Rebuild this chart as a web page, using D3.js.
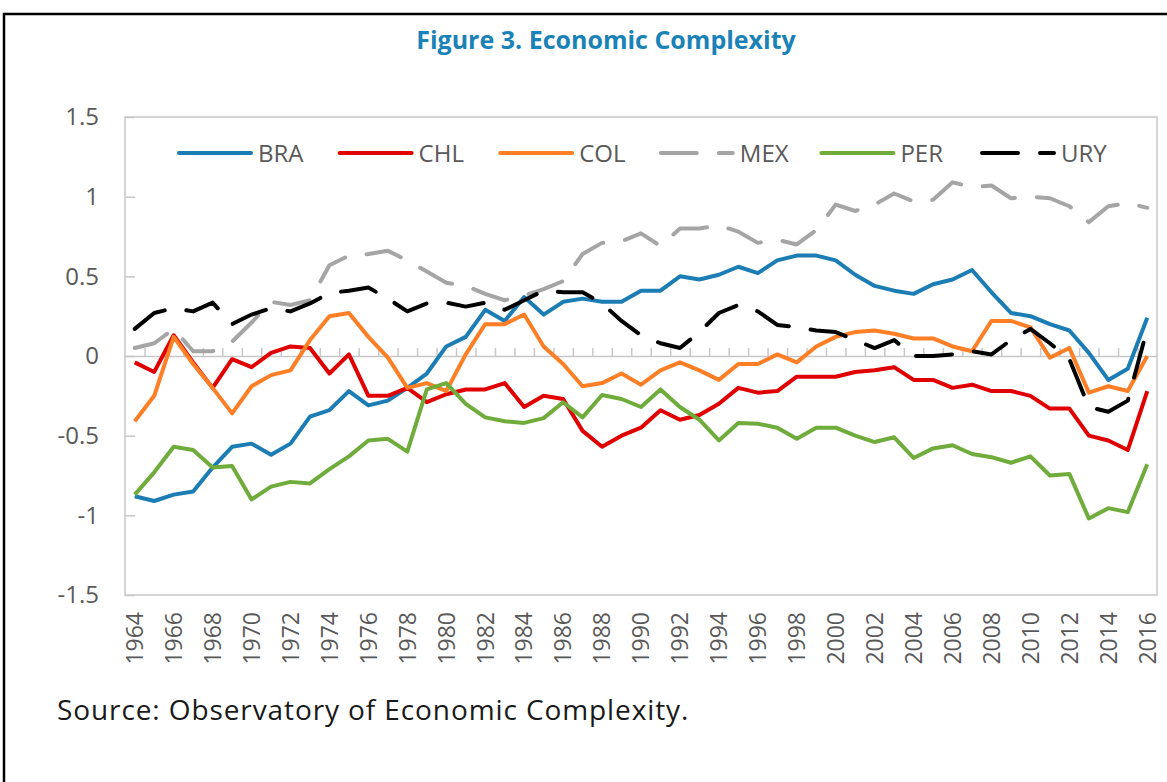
<!DOCTYPE html>
<html>
<head>
<meta charset="utf-8">
<script src="https://cdn.jsdelivr.net/npm/d3@7"></script>
<style>
  body { margin: 0; background: #fff; }
  svg { display: block; }
</style>
</head>
<body>
<script>
// categories
const years = [1964, 1965, 1966, 1967, 1968, 1969, 1970, 1971, 1972, 1973,
  1974, 1975, 1976, 1977, 1978, 1979, 1980, 1981, 1982, 1983,
  1984, 1985, 1986, 1987, 1988, 1989, 1990, 1991, 1992, 1993,
  1994, 1995, 1996, 1997, 1998, 1999, 2000, 2001, 2002, 2003,
  2004, 2005, 2006, 2007, 2008, 2009, 2010, 2011, 2012, 2013,
  2014, 2015, 2016]

// tick labels
const yearLabels = [1964, 1966, 1968, 1970, 1972, 1974, 1976, 1978, 1980, 1982,
  1984, 1986, 1988, 1990, 1992, 1994, 1996, 1998, 2000, 2002,
  2004, 2006, 2008, 2010, 2012, 2014, 2016]
const yTicks = [-1.5, -1, -0.5, 0, 0.5, 1, 1.5]

// series values
const BRA = [-0.88, -0.91, -0.87, -0.85, -0.70, -0.57, -0.55, -0.62, -0.55, -0.38,
  -0.34, -0.22, -0.31, -0.28, -0.20, -0.11, 0.06, 0.12, 0.29, 0.22,
  0.37, 0.26, 0.34, 0.36, 0.34, 0.34, 0.41, 0.41, 0.50, 0.48,
  0.51, 0.56, 0.52, 0.60, 0.63, 0.63, 0.60, 0.51, 0.44, 0.41,
  0.39, 0.45, 0.48, 0.54, 0.40, 0.27, 0.25, 0.20, 0.16, 0.02,
  -0.15, -0.08, 0.24]
const CHL = [-0.04, -0.10, 0.13, -0.04, -0.20, -0.02, -0.07, 0.02, 0.06, 0.05,
  -0.11, 0.01, -0.25, -0.25, -0.20, -0.29, -0.24, -0.21, -0.21, -0.17,
  -0.32, -0.25, -0.27, -0.47, -0.57, -0.50, -0.45, -0.34, -0.40, -0.37,
  -0.30, -0.20, -0.23, -0.22, -0.13, -0.13, -0.13, -0.10, -0.09, -0.07,
  -0.15, -0.15, -0.20, -0.18, -0.22, -0.22, -0.25, -0.33, -0.33, -0.50,
  -0.53, -0.59, -0.22]
const COL = [-0.41, -0.25, 0.12, -0.05, -0.20, -0.36, -0.19, -0.12, -0.09, 0.10,
  0.25, 0.27, 0.12, -0.01, -0.20, -0.17, -0.22, 0.01, 0.20, 0.20,
  0.26, 0.06, -0.05, -0.19, -0.17, -0.11, -0.18, -0.09, -0.04, -0.09,
  -0.15, -0.05, -0.05, 0.01, -0.04, 0.06, 0.12, 0.15, 0.16, 0.14,
  0.11, 0.11, 0.06, 0.03, 0.22, 0.22, 0.18, -0.01, 0.05, -0.23,
  -0.19, -0.22, 0.00]
const MEX = [0.05, 0.08, 0.17, 0.03, 0.03, 0.09, 0.21, 0.34, 0.32, 0.35,
  0.57, 0.63, 0.64, 0.66, 0.60, 0.53, 0.46, 0.44, 0.39, 0.35,
  0.38, 0.42, 0.47, 0.64, 0.71, 0.72, 0.77, 0.69, 0.80, 0.80,
  0.82, 0.78, 0.71, 0.73, 0.70, 0.79, 0.95, 0.91, 0.95, 1.02,
  0.97, 0.98, 1.09, 1.06, 1.07, 0.99, 1.00, 0.99, 0.94, 0.84,
  0.94, 0.96, 0.93]
const PER = [-0.87, -0.73, -0.57, -0.59, -0.70, -0.69, -0.90, -0.82, -0.79, -0.80,
  -0.71, -0.63, -0.53, -0.52, -0.60, -0.21, -0.17, -0.30, -0.385, -0.41,
  -0.42, -0.39, -0.29, -0.385, -0.245, -0.27, -0.32, -0.21, -0.32, -0.40,
  -0.53, -0.42, -0.425, -0.45, -0.52, -0.45, -0.45, -0.50, -0.54, -0.51,
  -0.64, -0.58, -0.56, -0.615, -0.635, -0.67, -0.63, -0.75, -0.74, -1.02,
  -0.955, -0.98, -0.68]
const URY = [0.17, 0.27, 0.30, 0.28, 0.335, 0.20, 0.26, 0.30, 0.28, 0.33,
  0.395, 0.41, 0.43, 0.36, 0.28, 0.33, 0.335, 0.31, 0.335, 0.29,
  0.35, 0.41, 0.40, 0.40, 0.33, 0.22, 0.13, 0.08, 0.05, 0.15,
  0.27, 0.32, 0.28, 0.195, 0.18, 0.16, 0.15, 0.10, 0.05, 0.10,
  0.00, 0.00, 0.01, 0.03, 0.01, 0.10, 0.17, 0.08, -0.02, -0.32,
  -0.35, -0.28, 0.17]

const seriesNames = ['BRA', 'CHL', 'COL', 'MEX', 'PER', 'URY']
const seriesValues = [BRA, CHL, COL, MEX, PER, URY]

const width = 1167
const height = 782
const plot = { left: 125, right: 1157, top: 117, bottom: 595 }
const font = "'Open Sans', 'Noto Sans', sans-serif"
const textGrey = '#595959'
const axisGrey = '#c8c8c8'

const styles = {
  BRA: { color: '#1b7db4', dash: null },
  CHL: { color: '#e00000', dash: null },
  COL: { color: '#ff7f27', dash: null },
  MEX: { color: '#a5a5a5', dash: '36,22' },
  PER: { color: '#6fac3c', dash: null },
  URY: { color: '#000000', dash: '36,22' }
}

const svg = d3.select('body').append('svg')
  .attr('width', width)
  .attr('height', height)

// outer frame (right and bottom sides fall outside the picture)
svg.append('rect')
  .attr('x', 4).attr('y', 14)
  .attr('width', 1180).attr('height', 800)
  .attr('fill', 'none')
  .attr('stroke', '#000')
  .attr('stroke-width', 2.5)

// title
svg.append('text')
  .attr('x', 606).attr('y', 49)
  .attr('text-anchor', 'middle')
  .style('font-family', font)
  .style('font-weight', 'bold')
  .style('font-size', '25px')
  .style('fill', '#1a82b7')
  .text('Figure 3. Economic Complexity')

// scales
const x = d3.scaleBand().domain(years).range([plot.left, plot.right])
const xc = d => x(d) + x.bandwidth() / 2
const y = d3.scaleLinear().domain([-1.5, 1.5]).range([plot.bottom, plot.top])
const xEdge = d3.scaleLinear().domain([0, years.length]).range([plot.left, plot.right])

// plot border
svg.append('rect')
  .attr('x', plot.left).attr('y', plot.top)
  .attr('width', plot.right - plot.left)
  .attr('height', plot.bottom - plot.top)
  .attr('fill', 'none')
  .attr('stroke', axisGrey)
  .attr('stroke-width', 1.5)

// y axis, ticks pointing into the plot
const yAxis = svg.append('g')
  .attr('transform', 'translate(' + plot.left + ',0)')
  .call(d3.axisLeft(y).tickValues(yTicks).tickSizeInner(-10).tickSizeOuter(0)
    .tickPadding(26).tickFormat(d => String(d)))
yAxis.select('.domain').remove()
yAxis.selectAll('line').attr('stroke', axisGrey).attr('stroke-width', 1.5)
yAxis.selectAll('text')
  .style('font-family', font)
  .style('font-size', '24px')
  .style('fill', textGrey)

// zero line with category ticks
const zeroAxis = svg.append('g')
  .attr('transform', 'translate(0,' + y(0) + ')')
  .call(d3.axisTop(xEdge).tickValues(d3.range(1, years.length)).tickSize(8)
    .tickSizeOuter(0).tickFormat(''))
zeroAxis.selectAll('path, line').attr('stroke', axisGrey).attr('stroke-width', 1.5)

// x labels
const xAxis = svg.append('g')
  .attr('transform', 'translate(0,' + plot.bottom + ')')
  .call(d3.axisBottom(x).tickValues(yearLabels).tickSize(0))
xAxis.select('.domain').remove()
xAxis.selectAll('text')
  .attr('transform', 'rotate(-90)')
  .attr('x', -17)
  .attr('y', 0)
  .attr('dy', '0.36em')
  .style('text-anchor', 'end')
  .style('font-family', font)
  .style('font-size', '23px')
  .style('fill', textGrey)

// lines
const line = d3.line()
  .x((d, i) => xc(years[i]))
  .y(d => y(d))

svg.append('g').selectAll('path')
  .data(seriesNames)
  .enter()
  .append('path')
  .attr('d', (d, i) => line(seriesValues[i]))
  .attr('fill', 'none')
  .attr('stroke', d => styles[d].color)
  .attr('stroke-width', 4)
  .attr('stroke-linejoin', 'round')
  .attr('stroke-linecap', d => styles[d].dash ? 'round' : 'butt')
  .attr('stroke-dasharray', d => styles[d].dash)

// legend
const legend = svg.append('g').selectAll('g')
  .data(seriesNames)
  .enter()
  .append('g')
  .attr('transform', (d, i) => 'translate(' + (177 + i * 160.6) + ',153)')
legend.append('line')
  .attr('x1', 2).attr('x2', 74)
  .attr('stroke', d => styles[d].color)
  .attr('stroke-width', 4)
  .attr('stroke-linecap', 'round')
  .attr('stroke-dasharray', d => styles[d].dash)
legend.append('text')
  .attr('x', 81)
  .attr('dy', '0.36em')
  .style('font-family', font)
  .style('font-size', '24px')
  .style('fill', textGrey)
  .text(d => d)

// source note
svg.append('text')
  .attr('x', 57).attr('y', 720)
  .style('font-family', font)
  .style('font-size', '28px')
  .style('letter-spacing', '0.9px')
  .style('fill', '#1a1a1a')
  .text('Source: Observatory of Economic Complexity.')
</script>
</body>
</html>
